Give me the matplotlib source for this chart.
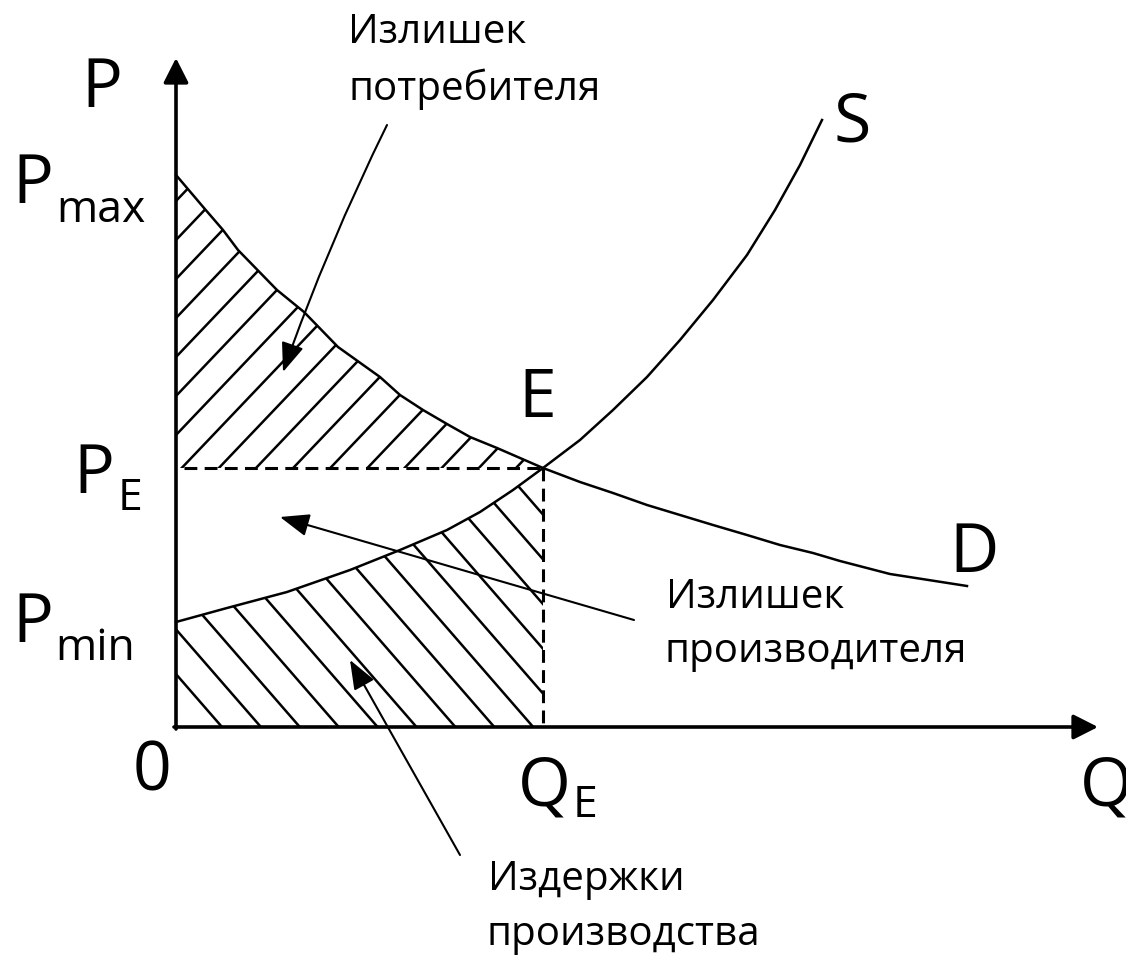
import numpy as np
import matplotlib
matplotlib.use("Agg")
import matplotlib.pyplot as plt
from matplotlib.patches import Polygon

plt.rcParams['font.family'] = ['Open Sans', 'DejaVu Sans']

# кривые спроса и предложения (Q, P)
demand_q = [0, 28, 47, 62, 101, 128, 162, 204, 224, 247, 271, 294, 321, 344, 367,
            404, 437, 471, 504, 537, 571, 604, 637, 664, 714, 791]
demand_p = [552, 519, 497, 477, 437, 415, 380, 350, 332, 317, 303, 290, 279, 269, 259,
            245, 234, 222, 212, 202, 192, 182, 174, 166, 153, 141]
supply_q = [0, 51, 111, 174, 224, 271, 304, 337, 367,
            404, 437, 471, 504, 537, 571, 599, 624, 646]
supply_p = [105, 119, 135, 157, 177, 197, 215, 237, 259,
            287, 317, 350, 387, 427, 472, 517, 562, 607]

q_e, p_e = 367, 259
q_axis_end, p_axis_end = 922, 669

# подписи: (текст, Q, P)
big_labels = [("P", -74, 620), ("P", -143, 524), ("P", -82, 234), ("P", -143, 85),
              ("E", 361, 310), ("S", 676, 585), ("D", 798, 155),
              ("0", -24, -63), ("Q", 368, -78), ("Q", 930, -78)]
sub_labels = [("max", -120, 505), ("E", -58, 217), ("min", -121, 67), ("E", 397, -90)]
notes = [("Излишек", 172, 684), ("потребителя", 172, 627),
         ("Излишек", 490, 119), ("производителя", 488, 65),
         ("Издержки", 312, -163), ("производства", 311, -218)]
# стрелки-выноски: откуда -> куда
pointers = [((211, 602), (107, 355), 0.03),
            ((458, 107), (104, 210), 0.0),
            ((284, -128), (174, 67), 0.0)]

fig = plt.figure(figsize=(11.26, 9.55), dpi=100)
ax = fig.add_axes([0, 0, 1, 1])
ax.set_xlim(-176, 950)
ax.set_ylim(-228, 727)
ax.axis('off')

# оси
for tip in [(0, p_axis_end), (q_axis_end, 0)]:
    start = (0, -2) if tip[0] == 0 else (-2, 0)
    ax.annotate('', xy=tip, xytext=start,
                arrowprops=dict(arrowstyle='-|>,head_length=0.75,head_width=0.38',
                                mutation_scale=20, lw=2.6, color='black',
                                shrinkA=0, shrinkB=0))

ax.plot(demand_q, demand_p, color='black', lw=1.8, solid_joinstyle='round')
ax.plot(supply_q, supply_p, color='black', lw=1.8, solid_joinstyle='round')

ax.plot([8, q_e], [p_e, p_e], color='black', lw=2.2, dashes=(4.2, 2.4))
ax.plot([q_e, q_e], [p_e, 0], color='black', lw=2.2, dashes=(4.2, 2.4))

# штриховка
dq = np.array(demand_q)
dp = np.array(demand_p)
sq = np.array(supply_q)
sp = np.array(supply_p)
m = dq <= q_e
cons = Polygon(np.column_stack([np.r_[dq[m], q_e, 0], np.r_[dp[m], p_e, p_e]]),
               closed=True, fill=False, edgecolor='none')
m = sq <= q_e
prod = Polygon(np.column_stack([np.r_[0, sq[m], q_e], np.r_[0, sp[m], 0]]),
               closed=True, fill=False, edgecolor='none')
ax.add_patch(cons)
ax.add_patch(prod)

xx = np.array([-50, 450])
for c in np.arange(292 - 39 * 12, 560, 39):
    ln, = ax.plot(xx, 1.05 * xx + c, color='black', lw=1.8)
    ln.set_clip_path(cons)
for q0 in np.arange(46, 620, 38.9):
    ln, = ax.plot(xx, -1.15 * (xx - q0), color='black', lw=1.8)
    ln.set_clip_path(prod)

# выноски
for (x0, y0), (x1, y1), rad in pointers:
    ax.annotate('', xy=(x1, y1), xytext=(x0, y0),
                arrowprops=dict(arrowstyle='-|>,head_length=0.9,head_width=0.35',
                                mutation_scale=20, lw=1.5, color='black',
                                shrinkA=0, shrinkB=0,
                                connectionstyle=f'arc3,rad={rad}'))

for t, x, y in big_labels:
    ax.text(x, y, t, fontsize=49, ha='center', va='baseline')
for t, x, y in sub_labels:
    ax.text(x, y, t, fontsize=32, ha='left', va='baseline')
for t, x, y in notes:
    ax.text(x, y, t, fontsize=29, ha='left', va='baseline')

fig.savefig('out.png', dpi=100)
